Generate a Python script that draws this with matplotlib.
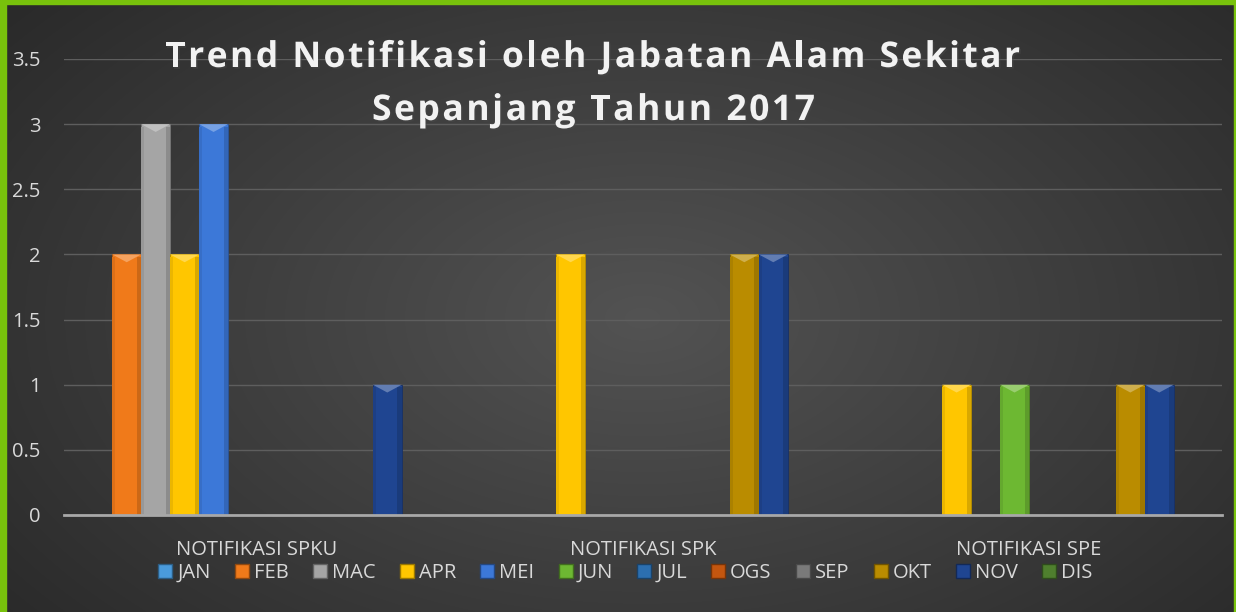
import matplotlib.pyplot as plt
import numpy as np
import matplotlib.patheffects as pe
from matplotlib.patches import Patch, Polygon, Rectangle
from matplotlib.colors import to_rgb

categories = ['NOTIFIKASI SPKU', 'NOTIFIKASI SPK', 'NOTIFIKASI SPE']
months = ['JAN', 'FEB', 'MAC', 'APR', 'MEI', 'JUN',
          'JUL', 'OGS', 'SEP', 'OKT', 'NOV', 'DIS']

# counts per month for each notification type
spku = [0, 2, 3, 2, 3, 0, 0, 0, 0, 0, 1, 0]
spk = [0, 0, 0, 2, 0, 0, 0, 0, 0, 2, 2, 0]
spe = [0, 0, 0, 1, 0, 1, 0, 0, 0, 1, 1, 0]

colors = ['#4A9BDC', '#F07A1A', '#A5A5A5', '#FFC600', '#3C78D8', '#6DB832',
          '#2C6FB0', '#C4560F', '#7A7A7A', '#BA8C00', '#1F4591', '#4F7F2E']

title_lines = ['Trend Notifikasi oleh Jabatan Alam Sekitar', 'Sepanjang Tahun 2017']


def shade(c, f):
    r = np.array(to_rgb(c))
    if f > 0:
        r = r + (1 - r) * f
    else:
        r = r * (1 + f)
    return tuple(np.clip(r, 0, 1))


W, H = 1236, 612
fig = plt.figure(figsize=(W / 100, H / 100), dpi=100)

# radial background
bg = fig.add_axes([0, 0, 1, 1], zorder=-10)
yy, xx = np.mgrid[0:1:300j, 0:1:600j]
d = np.sqrt(((xx - 0.52) / 0.62) ** 2 + ((yy - 0.52) / 0.75) ** 2)
lum = np.clip(0.325 - 0.15 * d, 0.15, 1)
img = np.dstack([lum, lum, lum])
bg.imshow(img, aspect='auto', extent=[0, 1, 0, 1], interpolation='bilinear')
bg.set_xlim(0, 1)
bg.set_ylim(0, 1)
bg.axis('off')

# green frame
green = '#78C20C'
fig.patches.append(Rectangle((0, 0), 6 / W, 1, transform=fig.transFigure, color=green))
fig.patches.append(Rectangle((0, 1 - 4 / H), 1, 4 / H, transform=fig.transFigure, color=green))
fig.patches.append(Rectangle((1 - 2 / W, 0), 2 / W, 1, transform=fig.transFigure, color=green))

ax = fig.add_axes([64 / W, 1 - 515 / H, (1222 - 64) / W, (515 - 59) / H])
ax.set_facecolor('none')

x = np.arange(len(categories))
w = 0.9 / len(months)
data = np.array([spku, spk, spe])

for i, m in enumerate(months):
    vals = data[:, i]
    bars = ax.bar(x + (i - 5.5) * w, vals, width=w, color=colors[i],
                  edgecolor=shade(colors[i], -0.3), linewidth=0.6, label=m, zorder=3)
    for b in bars:
        h = b.get_height()
        if h <= 0:
            continue
        x0 = b.get_x()
        bw = b.get_width()
        bev = 0.06
        # bevel look: light chevron at the top, shaded sides
        ax.add_patch(Rectangle((x0 + bw * 0.85, 0), bw * 0.15, h - 0.02,
                               color=shade(colors[i], -0.15), zorder=3.5, lw=0))
        ax.add_patch(Rectangle((x0, 0), bw * 0.1, h - 0.02,
                               color=shade(colors[i], -0.08), zorder=3.5, lw=0))
        ax.add_patch(Polygon([(x0, h), (x0 + bw, h), (x0 + bw * 0.5, h - bev)],
                             closed=True, color=shade(colors[i], 0.3), zorder=4, lw=0))

ax.set_ylim(0, 3.5)
ax.set_xlim(-0.5, 2.5)
ax.set_yticks(np.arange(0, 3.51, 0.5))
ax.set_yticklabels(['0', '0.5', '1', '1.5', '2', '2.5', '3', '3.5'])
ax.set_xticks(x)
ax.set_xticklabels(categories)
ax.grid(axis='y', color='#5E5E5E', linewidth=1, zorder=0)
for s in ['top', 'right', 'left']:
    ax.spines[s].set_visible(False)
ax.spines['bottom'].set_color('#A8A8A8')
ax.spines['bottom'].set_linewidth(2)
ax.spines['bottom'].set_zorder(5)
ax.tick_params(axis='both', length=0, colors='#D9D9D9', labelsize=14.5)
ax.tick_params(axis='y', pad=17)
ax.tick_params(axis='x', pad=18)
for t in ax.get_xticklabels() + ax.get_yticklabels():
    t.set_fontfamily('Open Sans')

handles = [Patch(facecolor=colors[i], edgecolor=shade(colors[i], -0.4), label=m)
           for i, m in enumerate(months)]
leg = fig.legend(handles=handles, loc='center', bbox_to_anchor=(0.506, 1 - 573 / H),
                 ncol=12, frameon=False, handlelength=0.7, handleheight=0.7,
                 handletextpad=0.25, columnspacing=1.2,
                 prop={'family': 'Open Sans', 'size': 14.5})
for t in leg.get_texts():
    t.set_color('#D9D9D9')

# title with letter spacing, drawn char by char
renderer = fig.canvas.get_renderer()
title_kw = dict(fontsize=25.5, fontweight='bold', color='#F2F2F2', family='Open Sans',
                va='baseline', ha='left',
                path_effects=[pe.withSimplePatchShadow(offset=(1.2, -1.2), alpha=0.45)])
# (left px, right px, baseline px) of each line
title_boxes = [(165, 1020, 67), (372, 815, 120)]
for line, (lx, rx, base) in zip(title_lines, title_boxes):
    chars = [fig.text(0, 0, ch, **title_kw) for ch in line]
    widths = [c.get_window_extent(renderer).width for c in chars]
    gap = (rx - lx - sum(widths)) / (len(line) - 1)
    cx = lx
    for c, cw in zip(chars, widths):
        c.set_position((cx / W, 1 - base / H))
        cx += cw + gap

fig.savefig('out.png', dpi=100)
